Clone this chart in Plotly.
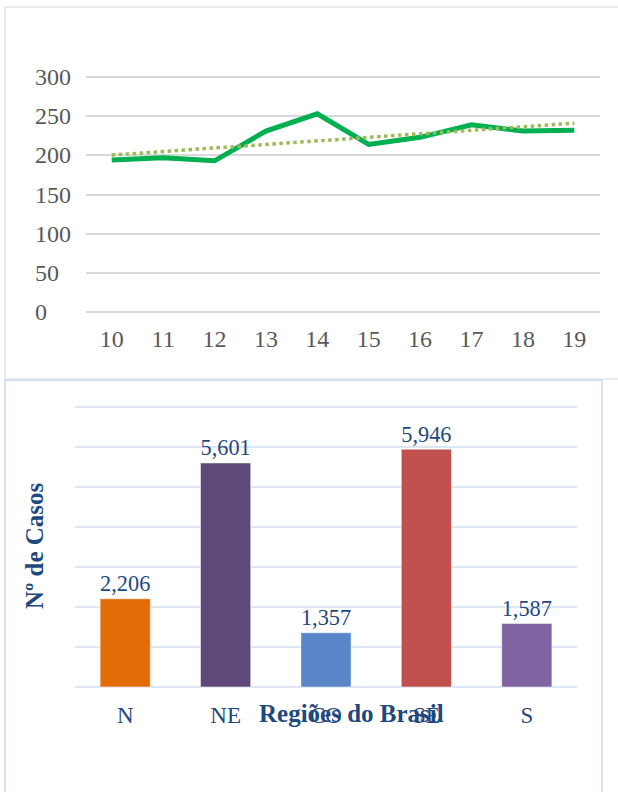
import numpy as np
import plotly.graph_objects as go

# ---- data ----
years = [10, 11, 12, 13, 14, 15, 16, 17, 18, 19]
values = [194, 197, 193, 231, 253, 214, 223, 239, 231, 232]
y_ticks = [0, 50, 100, 150, 200, 250, 300]

regions = ["N", "NE", "CO", "SE", "S"]
cases = [2206, 5601, 1357, 5946, 1587]
case_grid = [0, 1000, 2000, 3000, 4000, 5000, 6000, 7000]
bar_colors = ["#e36c09", "#5f497a", "#5886c6", "#c0504d", "#8064a2"]

W, H = 618, 792


def px(x):
    return x / W


def py(y):
    return 1 - y / H


coef = np.polyfit(years, values, 1)
trend = np.polyval(coef, years)

fig = go.Figure()

fig.add_trace(go.Scatter(x=years, y=values, mode="lines",
                         line=dict(color="#00b050", width=5),
                         xaxis="x", yaxis="y", showlegend=False))
fig.add_trace(go.Scatter(x=years, y=trend, mode="lines",
                         line=dict(color="#9bbb59", width=3.5, dash="dot"),
                         xaxis="x", yaxis="y", showlegend=False))

fig.add_trace(go.Bar(x=regions, y=cases, marker=dict(color=bar_colors,
                     line=dict(color="rgba(255,255,255,0.5)", width=1)),
                     texttemplate="%{y:,}", textposition="outside",
                     textfont=dict(family="Liberation Serif", size=25, color="#1f497d"),
                     cliponaxis=False, xaxis="x2", yaxis="y2", showlegend=False))

serif = "Liberation Serif"

# top chart: y=0 at 312px, y=300 at 77px -> extend range slightly so edge gridlines show
y_lo, y_hi = -3, 303
u = (312 - 77) / 300.0
top_bot = 312 + (0 - y_lo) * u
top_top = 77 - (y_hi - 300) * u

# bottom chart: 0 at 687px, 7000 at 407px
b_lo, b_hi = -50, 7050
ub = (687 - 407) / 7000.0
bot_bot = 687 + (0 - b_lo) * ub
bot_top = 407 - (b_hi - 7000) * ub

# left-aligned y tick labels of the top chart
annotations = [
    dict(text=str(v), xref="paper", yref="y", x=px(33), y=v,
         xanchor="left", yanchor="middle", showarrow=False,
         font=dict(family=serif, size=24, color="#595959"))
    for v in y_ticks
]
annotations += [
    dict(text="<b>Regiões do Brasil</b>", xref="paper", yref="paper",
         x=px(351), y=py(713), xanchor="center", yanchor="middle",
         showarrow=False,
         font=dict(family=serif, size=25, color="#1f497d")),
    dict(text="<b>Nº de Casos</b>", xref="paper", yref="paper",
         x=px(34), y=py(546), xanchor="center", yanchor="middle",
         textangle=-90, showarrow=False,
         font=dict(family=serif, size=25, color="#1f497d")),
]

fig.update_layout(
    template="none",
    width=W, height=H,
    margin=dict(l=0, r=0, t=0, b=0, autoexpand=False),
    paper_bgcolor="white", plot_bgcolor="white",
    bargap=0.5,
    xaxis=dict(domain=[px(86), px(600)], range=[9.5, 19.5], tickmode="array",
               tickvals=years, ticktext=[str(y) for y in years],
               showgrid=False, zeroline=False, showline=False, automargin=False,
               ticks="outside", ticklen=0, ticklabelstandoff=3,
               tickfont=dict(family=serif, size=24, color="#595959"), anchor="y"),
    yaxis=dict(domain=[py(top_bot), py(top_top)], range=[y_lo, y_hi],
               tickmode="array", tickvals=y_ticks, showticklabels=False,
               showgrid=True, gridcolor="#d9d9d9", gridwidth=1.5,
               zeroline=False, showline=False, automargin=False, anchor="x"),
    xaxis2=dict(domain=[px(75), px(577)], showgrid=False, zeroline=False,
                showline=False, automargin=False, ticks="outside", ticklen=0,
                ticklabelstandoff=5,
                tickfont=dict(family=serif, size=23, color="#1f497d"), anchor="y2"),
    yaxis2=dict(domain=[py(bot_bot), py(bot_top)], range=[b_lo, b_hi],
                tickmode="array", tickvals=case_grid,
                showgrid=True, gridcolor="#dce6f4", gridwidth=2, automargin=False,
                zeroline=False, showline=False, showticklabels=False, anchor="x2"),
    shapes=[
        dict(type="rect", xref="paper", yref="paper",
             x0=px(5), x1=px(640), y0=py(379), y1=py(7),
             line=dict(color="#d9d9d9", width=1), layer="below"),
        dict(type="rect", xref="paper", yref="paper",
             x0=px(5), x1=px(602), y0=py(820), y1=py(380),
             line=dict(color="#c9daf0", width=1.5), layer="below"),
    ],
    annotations=annotations,
)

fig.write_html("out.html")
